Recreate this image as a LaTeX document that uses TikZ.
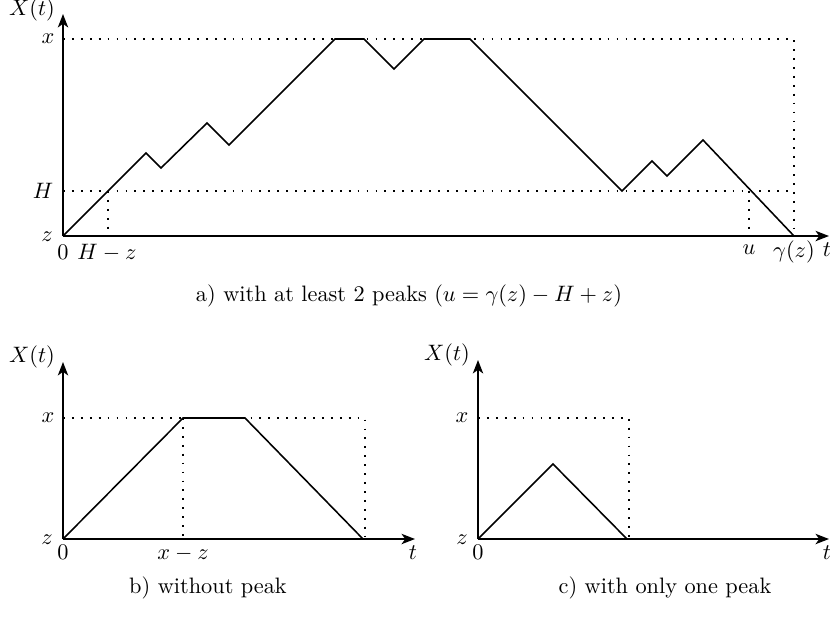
\documentclass[tikz,border=0pt]{standalone}
\usetikzlibrary{arrows.meta}
\begin{document}
\begin{tikzpicture}[x=0.448pt,y=-0.448pt,
  axis/.style={line width=0.9pt,-{Stealth[length=6pt,width=4.6pt,inset=1.6pt]}},
  walk/.style={line width=0.7pt,line join=miter},
  guide/.style={line width=0.8pt,dash pattern=on 0.8pt off 3.2pt},
  lab/.style={inner sep=0pt},
  bl/.style={inner sep=0pt,anchor=base}]
\useasboundingbox (0,0) rectangle (830,616);

% ---------- panel a ----------
\coordinate (Ao) at (63,236);
\coordinate (Ay) at (63,14);
\coordinate (Ax) at (829,236);
\coordinate (AxL) at (63,39);
\coordinate (AxR) at (794,39);
\coordinate (AgB) at (794,236);
\coordinate (AHL) at (63,191);
\coordinate (AHR) at (794,191);
\coordinate (Ah1) at (108,191);
\coordinate (Ah1b) at (108,236);
\coordinate (Au) at (749,191);
\coordinate (Aub) at (749,236);
\draw[guide] (AxL) -- (AxR) -- (AgB);
\draw[guide] (AHL) -- (AHR);
\draw[guide] (Ah1) -- (Ah1b);
\draw[guide] (Au) -- (Aub);
\draw[walk] (Ao) -- (146,153) -- (161,168) -- (207,123) -- (229,145)
  -- (335,39) -- (364,39) -- (394,69) -- (424,39) -- (470,39)
  -- (622,191) -- (652,161) -- (667,176) -- (703,140) -- (AgB);
\draw[axis] (Ao) -- (Ay);
\draw[axis] (Ao) -- (Ax);
\node[lab] (aX) at (32,10) {$X(t)$};
\node[lab] (ax) at (48,39) {$x$};
\node[lab] (aH) at (43,191) {$H$};
\node[lab] (az) at (47,237) {$z$};
\node[bl] (a0) at (63,259) {$0$};
\node[bl] (aHz) at (107,259) {$H-z$};
\node[bl] (au) at (749,254) {$u$};
\node[bl] (ag) at (794,257) {$\gamma(z)$};
\node[bl] (at) at (827,256) {$t$};
\node[lab] (acap) at (409,296) {a) with at least 2 peaks ($u=\gamma(z)-H+z$)};

% ---------- panel b ----------
\coordinate (Bo) at (63,539);
\coordinate (By) at (63,362);
\coordinate (Bx) at (415,539);
\coordinate (BxL) at (63,418);
\coordinate (BxR) at (365,418);
\coordinate (BgB) at (365,539);
\coordinate (Bm) at (183,418);
\coordinate (Bmb) at (183,539);
\draw[guide] (BxL) -- (BxR) -- (BgB);
\draw[guide] (Bm) -- (Bmb);
\draw[walk] (Bo) -- (Bm) -- (245,418) -- (363,539);
\draw[axis] (Bo) -- (By);
\draw[axis] (Bo) -- (Bx);
\node[lab] (bX) at (32,357) {$X(t)$};
\node[lab] (bx) at (48,418) {$x$};
\node[lab] (bz) at (47,540) {$z$};
\node[bl] (b0) at (63,559) {$0$};
\node[bl] (bxz) at (183,559) {$x-z$};
\node[bl] (bt) at (413,559) {$t$};
\node[lab] (bcap) at (208,588) {b) without peak};

% ---------- panel c ----------
\coordinate (Co) at (478,539);
\coordinate (Cy) at (478,360);
\coordinate (Cx) at (829,539);
\coordinate (CxL) at (478,418);
\coordinate (CxR) at (629,418);
\coordinate (CgB) at (629,539);
\draw[guide] (CxL) -- (CxR) -- (CgB);
\draw[walk] (Co) -- (553,464) -- (627,539);
\draw[axis] (Co) -- (Cy);
\draw[axis] (Co) -- (Cx);
\node[lab] (cX) at (447,355) {$X(t)$};
\node[lab] (cx) at (462,418) {$x$};
\node[lab] (cz) at (462,540) {$z$};
\node[bl] (c0) at (478,559) {$0$};
\node[bl] (ct) at (827,559) {$t$};
\node[lab] (ccap) at (665,588) {c) with only one peak};
\end{tikzpicture}
\end{document}
